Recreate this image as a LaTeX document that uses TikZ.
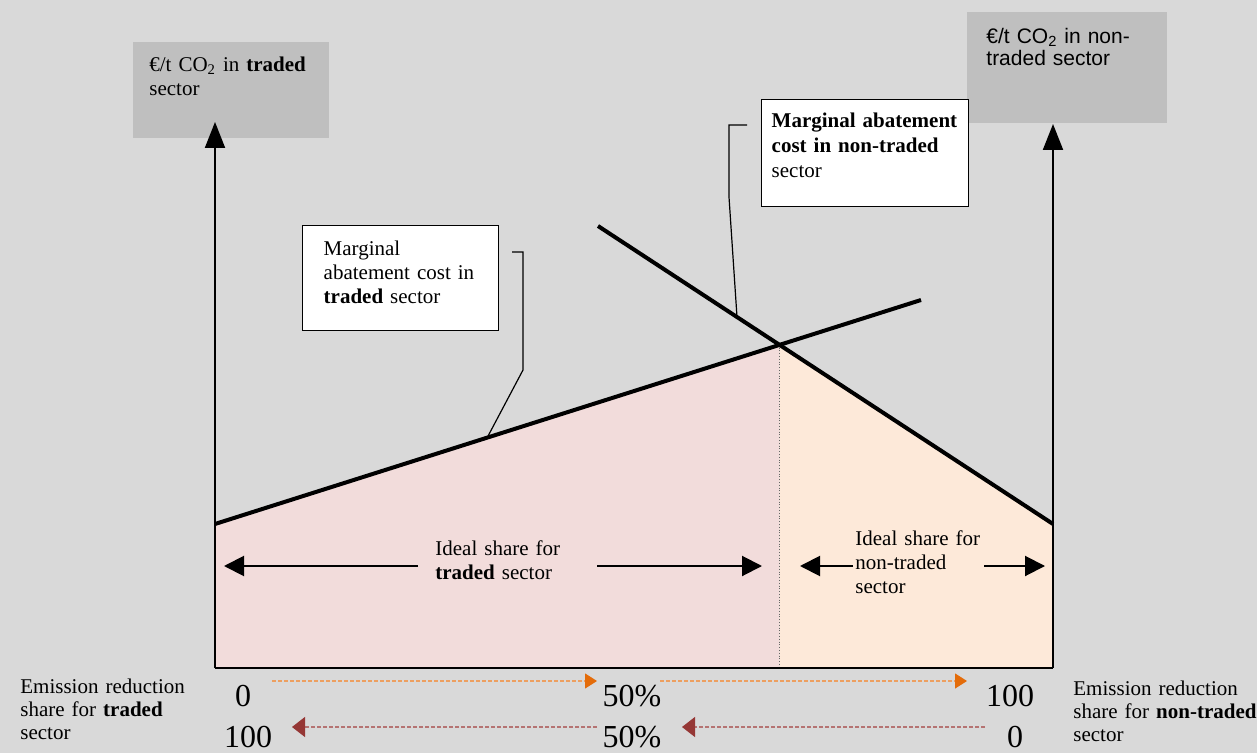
\documentclass[tikz,border=0pt]{standalone}
\usepackage{fontspec}
\setmainfont{Liberation Serif}
\newfontfamily\unitsans{Liberation Sans}
\usetikzlibrary{arrows.meta,positioning,intersections}
\definecolor{bggray}{HTML}{D9D9D9}
\definecolor{unitgray}{HTML}{BFBFBF}
\definecolor{tradedpink}{HTML}{F2DCDB}
\definecolor{nontradedpeach}{HTML}{FDE9D9}
\definecolor{shareorange}{HTML}{E46C0A}
\definecolor{sharered}{HTML}{953735}
\tikzset{
  axis/.style={
    line width=1pt,
    -{Triangle[width=10pt,length=13pt]}
  },
  mac/.style={
    line width=2pt
  },
  unitbox/.style={
    fill=unitgray,
    anchor=north west,
    align=left,
    inner ysep=0pt,
    font=\fontsize{10.5}{12}\selectfont
  },
  callout/.style={
    draw,
    fill=white,
    line width=0.7pt,
    anchor=north west,
    align=left,
    inner ysep=0pt,
    font=\fontsize{10.5}{12}\selectfont
  },
  pointer/.style={
    line width=0.6pt
  },
  ideal/.style={
    line width=1pt,
    -{Triangle[width=10pt,length=10pt]}
  },
  idealtext/.style={
    anchor=base west,
    align=left,
    inner sep=0pt,
    font=\fontsize{10.5}{12}\selectfont
  },
  divider/.style={
    draw=black!60,
    line width=0.4pt,
    densely dotted
  },
  sharelabel/.style={
    anchor=base west,
    align=left,
    inner sep=0pt,
    text width=100pt,
    font=\fontsize{10.5}{11.5}\selectfont
  },
  bignum/.style={
    anchor=base,
    inner sep=0pt,
    font=\fontsize{16}{16}\selectfont
  },
  fwdshare/.style={
    draw=shareorange!65,
    line width=0.6pt,
    dash pattern=on 2pt off 1pt,
    -{Triangle[width=7.5pt,length=6pt,color=shareorange]}
  },
  backshare/.style={
    draw=sharered!70,
    line width=0.6pt,
    dash pattern=on 2pt off 1pt,
    -{Triangle[width=10pt,length=6.5pt,color=sharered]}
  }
}

\begin{document}
\begin{tikzpicture}[x=0.5pt,y=-0.5pt]
\useasboundingbox (0,0) rectangle (1257,753);
\fill[bggray] (0,0) rectangle (1257,753);

\coordinate (O) at (215,668);
\coordinate (R) at (1053,668);
\coordinate (yT) at (215,122);
\coordinate (yN) at (1053,124);
\coordinate (tA) at (215,524);
\coordinate (tB) at (921,300);
\coordinate (nA) at (598,226);
\coordinate (nB) at (1053,524);
\path[name path=macT] (tA) -- (tB);
\path[name path=macN] (nA) -- (nB);
\path[name intersections={of=macT and macN, by=X}];

\fill[tradedpink] (tA) -- (X) -- (X |- O) -- (O) -- cycle;
\fill[nontradedpeach] (X) -- (nB) -- (R) -- (X |- O) -- cycle;
\draw[divider] (X) -- (X |- O);

\node[unitbox, inner xsep=8pt, text width=82pt, text height=14.5pt, text depth=33.5pt]
  (unitT) at (133,42) {€/t CO\textsubscript{2} in \textbf{traded}\\sector};
\node[unitbox, inner xsep=9.5pt, text width=81pt, text height=15.5pt, text depth=40pt,
  font=\unitsans\fontsize{10.5}{11}\selectfont]
  (unitN) at (967,12) {€/t CO\textsubscript{2} in non-\\traded sector};

\draw[axis] (O) -- (yT);
\draw[axis] (R) -- (yN);
\draw[line width=1pt] (O) -- (R);

\draw[mac] (tA) -- (tB);
\draw[mac] (nA) -- (nB);

\node[callout, inner xsep=10.5pt, text width=77pt, text height=15pt, text depth=37.5pt]
  (macTbox) at (302,225) {Marginal\\abatement cost in\\\textbf{traded} sector};
\node[callout, inner xsep=5pt, text width=93.5pt, text height=14pt, text depth=39.5pt,
  font=\fontsize{10.5}{12.5}\selectfont]
  (macNbox) at (761,99) {\textbf{Marginal abatement}\\\textbf{cost in non-traded}\\sector};

\coordinate (ptrT) at (512,252);
\coordinate (hitT) at (487,438);
\draw[pointer] (ptrT) -- ++(11,0) -- ++(0,118) -- (hitT);
\coordinate (ptrN) at (747,125);
\coordinate (hitN) at (737,317);
\draw[pointer] (ptrN) -- ++(-18,0) -- ++(0,72) -- (hitN);

\node[idealtext, text width=70pt] (idealT) at (435,555) {Ideal share for\\\textbf{traded} sector};
\node[idealtext, text width=70pt, font=\fontsize{10.5}{12}\selectfont]
  (idealN) at (855,545) {Ideal share for\\non-traded\\sector};
\coordinate (iT1) at (418,566);
\coordinate (iT2) at (224,566);
\coordinate (iT3) at (597,566);
\coordinate (iT4) at (762,566);
\coordinate (iN1) at (853,566);
\coordinate (iN2) at (800,566);
\coordinate (iN3) at (984,566);
\coordinate (iN4) at (1045,566);
\draw[ideal] (iT1) -- (iT2);
\draw[ideal] (iT3) -- (iT4);
\draw[ideal] (iN1) -- (iN2);
\draw[ideal] (iN3) -- (iN4);

\node[sharelabel] (shareT) at (20,693) {Emission reduction\\share for \textbf{traded}\\sector};
\node[sharelabel] (shareN) at (1073,695) {Emission reduction\\share for \textbf{non-traded}\\sector};

\foreach \x/\t [count=\i] in {243/0, 632/50\%, 1010/100}
  \node[bignum] (fwd\i) at (\x,706) {\t};
\foreach \x/\t [count=\i] in {248/100, 632/50\%, 1015/0}
  \node[bignum] (back\i) at (\x,747) {\t};

\coordinate (f1) at (272,681);
\coordinate (f2) at (597,681);
\coordinate (f3) at (660,681);
\coordinate (f4) at (967,681);
\draw[fwdshare] (f1) -- (f2);
\draw[fwdshare] (f3) -- (f4);
\coordinate (b1) at (597,727);
\coordinate (b2) at (292,727);
\coordinate (b3) at (985,727);
\coordinate (b4) at (682,727);
\draw[backshare] (b1) -- (b2);
\draw[backshare] (b3) -- (b4);
\end{tikzpicture}
\end{document}
